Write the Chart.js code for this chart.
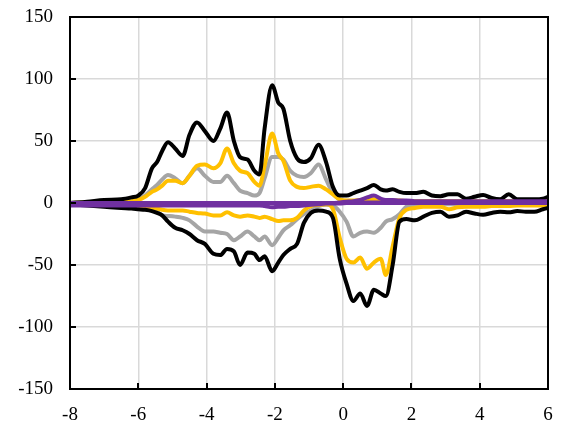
<!DOCTYPE html>
<html>
<head>
<meta charset="utf-8">
<script src="https://cdn.jsdelivr.net/npm/chart.js@4"></script>
<style>
  html, body { margin: 0; padding: 0; background: #fff; overflow: hidden; }
  #wrap { width: 564px; height: 426px; }
  canvas { display: block; }
</style>
</head>
<body>
<div id="wrap"><canvas id="c" width="564" height="426"></canvas></div>
<script>
const xValues = [-8, -7.5, -7, -6.5, -6.2, -6, -5.8, -5.6, -5.45, -5.3, -5.13, -4.92, -4.7, -4.5, -4.28, -4.05, -3.8, -3.6, -3.4, -3.2, -3.02, -2.8, -2.6, -2.45, -2.3, -2.08, -1.9, -1.75, -1.55, -1.35, -1.15, -0.95, -0.72, -0.5, -0.3, -0.1, 0.1, 0.3, 0.5, 0.7, 0.9, 1.1, 1.25, 1.45, 1.65, 1.85, 2.1, 2.35, 2.6, 2.85, 3.1, 3.35, 3.6, 3.85, 4.1, 4.35, 4.6, 4.85, 5.1, 5.35, 5.6, 5.85, 6];

const blackUpper = [0, 1, 2.5, 3, 4.5, 6, 12, 28, 33, 42, 49, 44, 38, 55, 65, 58, 50, 60, 73, 50, 37, 35, 26, 23, 60, 95, 81, 76, 50, 36, 33, 36, 47, 33, 13, 6, 6, 8, 10, 12, 14.5, 11, 10, 11, 9, 8, 8, 9, 6, 5.5, 7, 7, 3.5, 5, 6.5, 4, 3, 7, 3, 3, 3, 3.5, 5];
const blackLower = [-1, -2, -3, -4, -4.5, -5, -5.5, -6.5, -8, -10, -15, -20, -22, -25, -30, -33, -41, -42, -37, -39, -50, -40, -41, -46, -43, -55, -48, -42, -37, -33, -16, -8, -6, -7, -12, -45, -65, -79, -73, -83, -70, -73, -75, -50, -15, -13, -14, -11, -8, -7, -11, -10, -7, -8.5, -9.5, -8, -7, -7.5, -6.5, -7, -7, -5, -4];
const goldUpper = [0, 0.5, 1, 1, 1.5, 2.5, 5, 9, 11, 14, 18, 18, 16, 22, 30, 31, 28, 32, 44, 32, 26, 24, 17, 14, 30, 56, 40, 34, 18, 13, 12, 13, 14, 11, 7, 3, 2, 2, 2.5, 3, 3, 2.5, 2, 2, 2, 1.5, 1.5, 1.5, 1.5, 1.5, 1.5, 1.5, 1.5, 1.5, 1.5, 1.5, 1.5, 1.5, 1.5, 1.5, 1.5, 1.5, 1.5];
const goldLower = [-0.5, -1, -1, -1.5, -1.5, -2, -3, -4, -4.5, -5.5, -6, -6, -6, -7, -8, -8.5, -10, -10, -7.5, -10, -11, -10, -11, -12, -11, -13, -14.5, -14, -14, -12, -6, -2.5, -1.5, -1, -5, -28, -45, -48, -44, -53, -48, -45, -58, -35, -12, -5.5, -4, -3, -3, -3, -5, -3.5, -3, -3, -3, -2.5, -2.5, -2.5, -2, -2, -2, -2, -1.5];
const grayUpper = [0, 0.5, 1, 1, 1.5, 3, 6, 11, 14.5, 19, 22.5, 20, 16, 22, 28, 22, 17, 17, 22, 16, 10, 8, 6, 8, 20, 37, 37, 35, 26, 22, 21, 24, 31, 19, 8, 2.5, 1, 1, 1, 1, 1, 1, 1, 1, 1, 1, 1, 1, 1, 1, 1, 1, 1, 1, 1, 1, 1, 1, 1, 1, 1, 1, 1];
const grayLower = [-0.5, -1, -1.5, -2, -2.5, -3, -4, -5, -7, -10, -10.5, -11, -12, -14, -19, -23, -23, -24, -25, -30, -27, -23, -27, -30, -27, -34, -28, -22, -18, -13, -9, -6, -2.5, -1.5, -2, -7, -15, -27, -24, -23, -24, -20, -15, -13, -9, -3, -1.5, -1, -1, -1, -1, -1, -1, -1, -1, -1, -1, -1, -1, -1, -1, -1, -1];
const purpleA = [0, 0, 0, 0, 0, 0, 0, 0, 0, 0, 0, 0, 0, 0, 0, 0, 0, 0, 0, 0, 0, 0, 0, 0, 0, 0, 0, 0, 0, 0, 0, 0, 0, 0, 0, 0.5, 1, 1.5, 2.5, 4.5, 6, 3.5, 2.5, 2.5, 2, 2, 1.5, 1.5, 1.5, 1.5, 1.5, 1.5, 1.5, 1.5, 1.5, 1.5, 1.5, 1.5, 1.5, 1.5, 1.5, 1.5, 1.5];
const purpleB = [-2, -2, -2, -2, -2, -2, -2, -2, -2, -2, -2, -2, -2, -2, -2, -2, -2, -2, -2, -2, -2, -2, -2, -2, -2.5, -3.5, -3, -3, -2.5, -2.5, -2, -1.5, -1, -0.5, -0.5, -0.5, 0, 0, 0, 0, 0, 0, 0, 0, 0, 0, 0, 0, 0, 0, 0, 0, 0, 0, 0, 0, 0, 0, 0, 0, 0, 0, 0];
const purpleC = [0, 0, 0, 0, 0, 0, 0, 0, 0, 0, 0, 0, 0, 0, 0, 0, 0, 0, 0, 0, 0, 0, 0, 0, 0, 0, 0, 0, 0, 0, 0, 0, 0, 0, 0, 0, 0, 0, 0, 0.5, 0.5, 0.5, 0.5, 0.5, 0.5, 0.5, 0.5, 0.5, 0.5, 0.5, 0.5, 0.5, 0.5, 0.5, 0.5, 0.5, 0.5, 0.5, 0.5, 0.5, 0.5, 0.5, 0.5];

const xTicks = [-8, -6, -4, -2, 0, 2, 4, 6];
const yTicks = [-150, -100, -50, 0, 50, 100, 150];

function pts(ys) { return xValues.map((x, i) => ({ x: x, y: ys[i] })); }
function ds(ys, color, w) {
  return { data: pts(ys), borderColor: color, backgroundColor: color, borderWidth: w,
           pointRadius: 0, fill: false, cubicInterpolationMode: 'monotone' };
}

const PURPLE = '#7030A0', GOLD = '#FFC000', GRAY = '#A5A5A5', BLACK = '#000000';

const framePlugin = {
  id: 'frame',
  afterDraw(chart) {
    const { ctx, chartArea: a, scales } = chart;
    ctx.save();
    ctx.strokeStyle = '#000';
    ctx.lineWidth = 2;
    ctx.beginPath();
    ctx.rect(a.left, a.top, a.right - a.left, a.bottom - a.top);
    yTicks.forEach(v => {
      const y = Math.round(scales.y.getPixelForValue(v));
      ctx.moveTo(a.left, y); ctx.lineTo(a.left + 6, y);
    });
    xTicks.forEach(v => {
      const x = Math.round(scales.x.getPixelForValue(v));
      ctx.moveTo(x, a.bottom); ctx.lineTo(x, a.bottom - 6);
    });
    ctx.stroke();
    ctx.restore();
  }
};

const FONT = { family: '"Liberation Serif", "Times New Roman", serif', size: 19 };

new Chart(document.getElementById('c'), {
  type: 'line',
  data: {
    datasets: [
      ds(purpleA, PURPLE, 4),
      ds(purpleB, PURPLE, 4),
      ds(purpleC, PURPLE, 4),
      ds(blackUpper, BLACK, 4),
      ds(blackLower, BLACK, 4),
      ds(goldUpper, GOLD, 4),
      ds(goldLower, GOLD, 4),
      ds(grayUpper, GRAY, 4),
      ds(grayLower, GRAY, 4)
    ]
  },
  options: {
    responsive: false,
    maintainAspectRatio: false,
    animation: false,
    devicePixelRatio: 1,
    layout: { padding: { top: 17, right: 16, left: 0, bottom: 0 } },
    plugins: { legend: { display: false }, tooltip: { enabled: false } },
    scales: {
      x: {
        type: 'linear', min: -8, max: 6,
        afterBuildTicks: s => { s.ticks = xTicks.map(v => ({ value: v })); },
        afterFit: s => { s.height = 37; s.paddingLeft = 0; s.paddingRight = 0; },
        ticks: { color: '#000', padding: 15, maxRotation: 0, font: FONT },
        grid: { color: '#d9d9d9', lineWidth: 1.5, drawTicks: false },
        border: { display: false }
      },
      y: {
        type: 'linear', min: -150, max: 150,
        afterBuildTicks: s => { s.ticks = yTicks.map(v => ({ value: v })); },
        afterFit: s => { s.width = 70; s.paddingTop = 0; s.paddingBottom = 0; },
        ticks: { color: '#000', padding: 17, font: FONT },
        grid: { color: '#d9d9d9', lineWidth: 1.5, drawTicks: false },
        border: { display: false }
      }
    }
  },
  plugins: [framePlugin]
});
</script>
</body>
</html>
